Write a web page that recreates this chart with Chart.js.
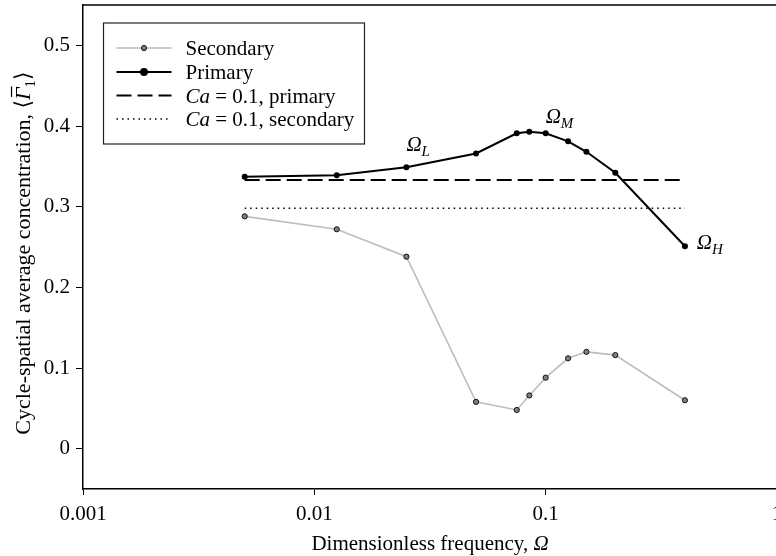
<!DOCTYPE html>
<html><head><meta charset="utf-8">
<script src="https://cdn.jsdelivr.net/npm/chart.js@4"></script>
<style>
html,body{margin:0;padding:0;overflow:hidden;background:#fff;width:776px;height:556px}
#wrap{width:800px;height:556px}
</style></head>
<body><div id="wrap"><canvas id="c" width="800" height="556"></canvas></div>
<script>
const frequencies = [0.005, 0.0125, 0.025, 0.05, 0.075, 0.085, 0.1, 0.125, 0.15, 0.2, 0.4];
const primary     = [0.337, 0.339, 0.349, 0.366, 0.391, 0.393, 0.391, 0.381, 0.368, 0.342, 0.251];
const secondary   = [0.288, 0.272, 0.238, 0.058, 0.048, 0.066, 0.088, 0.112, 0.120, 0.116, 0.060];
const caRange = [0.005, 0.4];
const caPrimary = 0.333;
const caSecondary = 0.298;
const xTicks = [0.001, 0.01, 0.1, 1];
const yTicks = [0, 0.1, 0.2, 0.3, 0.4, 0.5];
const omegaLabels = ['L', 'M', 'H'];
const omegaAt = [[0.025, 0.369], [0.1, 0.404], [0.45, 0.2475]];

const SERIF = '"Liberation Serif", "Times New Roman", "DejaVu Serif", serif';
function font(size, italic) { return (italic ? 'italic ' : '') + size + 'px ' + SERIF; }

function runsWidth(ctx, runs, base) {
  let w = 0;
  for (const r of runs) { ctx.font = font(r.size || base || 21, r.it); w += ctx.measureText(r.t).width; }
  return w;
}
function drawRuns(ctx, x, y, runs, base) {
  for (const r of runs) {
    const sz = r.size || base || 21;
    ctx.font = font(sz, r.it);
    const w = ctx.measureText(r.t).width;
    ctx.fillText(r.t, x, y + (r.dy || 0));
    if (r.bar) {
      ctx.save(); ctx.lineWidth = 1.2; ctx.beginPath();
      ctx.moveTo(x + 3, y - sz * 0.84); ctx.lineTo(x + w + 1, y - sz * 0.84); ctx.stroke(); ctx.restore();
    }
    x += w;
  }
  return x;
}

const decor = {
  id: 'decor',
  afterDraw(chart) {
    const ctx = chart.ctx, a = chart.chartArea;
    const xs = chart.scales.x, ys = chart.scales.y;
    ctx.save();
    ctx.fillStyle = '#000'; ctx.strokeStyle = '#000';
    ctx.textBaseline = 'alphabetic'; ctx.textAlign = 'left';
    // top frame line
    ctx.lineWidth = 1.5;
    ctx.beginPath(); ctx.moveTo(a.left, a.top); ctx.lineTo(a.right, a.top); ctx.stroke();

    // legend
    const bx = a.left + 20.5, by = a.top + 18, bw = 261, bh = 121;
    ctx.lineWidth = 1.2; ctx.strokeStyle = '#222';
    ctx.strokeRect(bx, by, bw, bh);
    ctx.strokeStyle = '#000';
    const rows = [by + 25, by + 49, by + 72.5, by + 96];
    const lx0 = bx + 13, lx1 = bx + 68, tx = bx + 82;
    const dsets = chart.data.datasets;
    const texts = [
      [{t: 'Secondary'}],
      [{t: 'Primary'}],
      [{t: 'Ca', it: true}, {t: ' = 0.1, primary'}],
      [{t: 'Ca', it: true}, {t: ' = 0.1, secondary'}]
    ];
    for (let i = 0; i < 4; i++) {
      const d = dsets[i], yy = rows[i];
      ctx.save();
      ctx.strokeStyle = d.borderColor; ctx.lineWidth = d.borderWidth;
      ctx.setLineDash(d.borderDash || []);
      ctx.beginPath(); ctx.moveTo(lx0, yy); ctx.lineTo(lx1, yy); ctx.stroke();
      ctx.setLineDash([]);
      if (d.pointRadius > 0) {
        ctx.beginPath(); ctx.arc((lx0 + lx1) / 2, yy, d.pointRadius, 0, Math.PI * 2);
        ctx.fillStyle = d.pointBackgroundColor; ctx.fill();
        ctx.lineWidth = d.pointBorderWidth; ctx.strokeStyle = d.pointBorderColor; ctx.stroke();
      }
      ctx.restore();
      drawRuns(ctx, tx, yy + 7, texts[i]);
    }

    // Omega annotations
    for (let i = 0; i < omegaLabels.length; i++) {
      const px = xs.getPixelForValue(omegaAt[i][0]);
      const py = ys.getPixelForValue(omegaAt[i][1]);
      drawRuns(ctx, px, py, [{t: 'Ω', it: true}, {t: omegaLabels[i], it: true, size: 15, dy: 5}]);
    }

    // x title
    const xr = [{t: 'Dimensionless frequency, '}, {t: 'Ω', it: true}];
    const xw = runsWidth(ctx, xr);
    drawRuns(ctx, (a.left + a.right) / 2 - xw / 2, 550, xr);

    // y title
    const yr = [{t: 'Cycle-spatial average concentration, \u27E8'}, {t: 'Γ', it: true, bar: true},
                {t: '1', size: 15, dy: 5}, {t: '\u27E9'}];
    const yw = runsWidth(ctx, yr, 22);
    ctx.translate(30, (a.top + a.bottom) / 2 + 6);
    ctx.rotate(-Math.PI / 2);
    drawRuns(ctx, -yw / 2, 0, yr, 22);
    ctx.restore();
  }
};

const pts = vals => frequencies.map((x, i) => ({x: x, y: vals[i]}));

new Chart(document.getElementById('c'), {
  type: 'line',
  data: {
    datasets: [
      { label: 'Secondary', data: pts(secondary), borderColor: '#bdbdbd', borderWidth: 1.6,
        pointRadius: 2.6, pointBackgroundColor: '#808080', pointBorderColor: '#111', pointBorderWidth: 1,
        order: 3 },
      { label: 'Primary', data: pts(primary), borderColor: '#000', borderWidth: 2,
        pointRadius: 3, pointBackgroundColor: '#000', pointBorderColor: '#000', pointBorderWidth: 0,
        order: 0 },
      { label: 'Ca = 0.1, primary', data: caRange.map(x => ({x: x, y: caPrimary})), borderColor: '#000',
        borderWidth: 2, borderDash: [15, 6], pointRadius: 0, order: 1 },
      { label: 'Ca = 0.1, secondary', data: caRange.map(x => ({x: x, y: caSecondary})), borderColor: '#000',
        borderWidth: 1.5, borderDash: [1.5, 4], pointRadius: 0, order: 2 }
    ]
  },
  options: {
    responsive: false, animation: false, events: [],
    layout: { padding: { top: 4, right: 23, left: 0, bottom: 0 } },
    plugins: { legend: { display: false }, tooltip: { enabled: false } },
    scales: {
      x: {
        type: 'logarithmic', min: 0.001, max: 1,
        afterBuildTicks: s => { s.ticks = xTicks.map(v => ({value: v})); },
        afterFit: s => { s.height = 67; s.paddingLeft = 0; s.paddingRight = 0; },
        ticks: { callback: v => String(v), color: '#000', font: { family: SERIF, size: 21 },
                 maxRotation: 0, autoSkip: false, padding: 7 },
        grid: { drawOnChartArea: false, drawTicks: true, tickLength: 6, color: '#000', lineWidth: 1 },
        border: { display: true, color: '#000', width: 1.5 }
      },
      y: {
        type: 'linear', min: -0.05, max: 0.55,
        afterBuildTicks: s => { s.ticks = yTicks.map(v => ({value: v})); },
        afterFit: s => { s.width = 83; s.paddingTop = 0; s.paddingBottom = 0; },
        ticks: { callback: v => String(v), color: '#000', font: { family: SERIF, size: 21 }, padding: 6 },
        grid: { drawOnChartArea: false, drawTicks: true, tickLength: 7, color: '#000', lineWidth: 1 },
        border: { display: true, color: '#000', width: 1.5 }
      }
    }
  },
  plugins: [decor]
});
</script>
</body></html>
